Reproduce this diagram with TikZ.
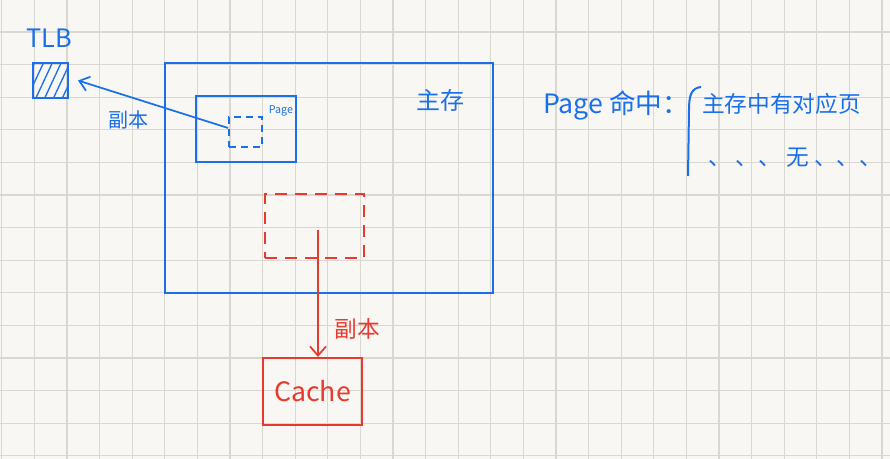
\documentclass[tikz,border=0pt]{standalone}
\usepackage{fontspec}
\setmainfont{Noto Sans CJK SC}
\usetikzlibrary{fit,arrows.meta,patterns.meta}
\definecolor{paper}{HTML}{F8F7F3}
\definecolor{gridc}{HTML}{DAD7D1}
\definecolor{inkblue}{HTML}{1A6FEA}
\definecolor{inkred}{HTML}{E8392E}
\tikzset{
  bluebox/.style={draw=inkblue, line width=1.5pt, inner sep=0pt},
  redbox/.style={draw=inkred, line width=1.5pt, inner sep=0pt},
  bluedash/.style={draw=inkblue, line width=1.3pt, inner sep=0pt, dash pattern=on 5pt off 4pt},
  reddash/.style={draw=inkred, line width=1.5pt, inner sep=0pt, dash pattern=on 9pt off 6pt},
  bluetext/.style={text=inkblue, inner sep=0pt},
  redtext/.style={text=inkred, inner sep=0pt},
}
\begin{document}
\begin{tikzpicture}[x=0.75pt,y=-0.75pt]
\useasboundingbox (0,0) rectangle (890,459);
\fill[paper] (0,0) rectangle (890,459);
% grid paper
\foreach \i in {0,...,27} {\draw[gridc, line width=0.9pt] (1.8+32.6*\i,0) -- (1.8+32.6*\i,459);}
\foreach \j in {1,...,14} {\draw[gridc, line width=0.9pt] (0,-0.6+32.6*\j) -- (890,-0.6+32.6*\j);}
% TLB
\node[bluetext, font=\fontsize{19}{19}\selectfont] (tlbl) at (49,38) {TLB};
\node[bluebox, fit={(33,63)(68,98)}, pattern={Lines[angle=65,distance=6pt,line width=1pt]}, pattern color=inkblue] (tlb) {};
% main memory
\node[bluebox, fit={(165,63)(493,293)}] (mem) {};
\node[bluetext, font=\fontsize{18}{18}\selectfont] (meml) at (440,100) {主存};
% page
\node[bluebox, fit={(196,96)(296,162)}] (page) {};
\node[bluetext, font=\fontsize{8}{8}\selectfont] (pagel) at (281,111) {Page};
\node[bluedash, fit={(229,117)(262,147)}] (pe) {};
% copy to TLB
\coordinate (ps) at ([yshift=3pt]pe.west);
\coordinate (tt) at ([xshift=7pt]tlb.east);
\draw[inkblue, line width=1.3pt, -{Straight Barb[length=7pt,width=11pt]}] (ps) -- (tt);
\node[bluetext, font=\fontsize{15}{15}\selectfont] (copy1) at (128,120) {副本};
% red block
\node[reddash, fit={(265,194)(364,258)}] (rb) {};
\node[redbox, fit={(263,358)(362,425)}] (cache) {};
\node[redtext, font=\fontsize{20}{20}\selectfont] (cachel) at (cache.center) {Cache};
\coordinate (rs) at (318,230);
\draw[inkred, line width=1.3pt, -{Straight Barb[length=7pt,width=12pt]}] (rs) -- (rs |- cache.north);
\node[redtext, font=\fontsize{17}{17}\selectfont] (copy2) at (357,329) {副本};
% right note
\node[bluetext, font=\fontsize{20}{20}\selectfont, anchor=west] (hit) at (543,105) {Page 命中：};
\draw[inkblue, line width=1.5pt] (701,87) .. controls (691,88) and (689,96) .. (689,110) -- (688,176);
\node[bluetext, font=\fontsize{17}{17}\selectfont, anchor=west] (yes) at (702,104) {主存中有对应页};
\node[bluetext, font=\fontsize{17}{17}\selectfont, anchor=west] (no) at (708,158) {、 、、 无 、、、};
\end{tikzpicture}
\end{document}
